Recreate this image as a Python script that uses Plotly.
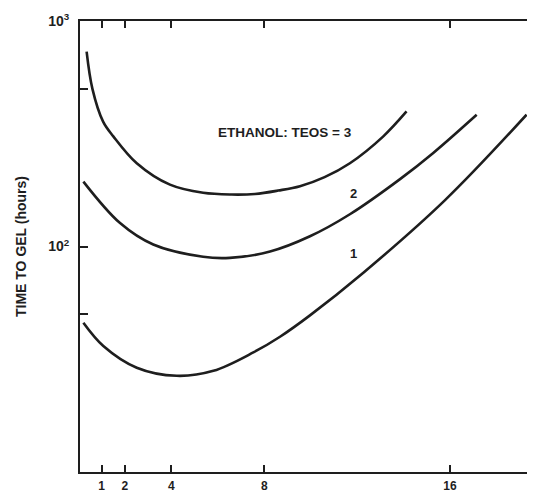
import math
import plotly.graph_objects as go

# ---- data ----
ratio_3_x = [0.35, 0.6, 1.06, 1.5, 2.51, 3.94, 5.37, 6.6, 7.6, 8.6, 9.54, 10.6, 11.69, 13.13, 14.13]
ratio_3_y = [731, 500, 358, 308, 234, 188, 173, 170, 171, 177, 185, 203, 234, 308, 397]

ratio_2_x = [0.21, 1.79, 3.22, 5.37, 6.52, 8.25, 9.97, 11.69, 13.85, 15.28, 17.15]
ratio_2_y = [194, 127, 102, 90, 89, 95, 111, 139, 199, 260, 384]

ratio_1_x = [0.21, 1.07, 2.51, 4.23, 5.81, 7.53, 8.68, 9.97, 12.27, 15.8, 19.30]
ratio_1_y = [45.9, 36.2, 29.0, 26.7, 28.1, 33.9, 39.8, 49.5, 76.5, 161, 384]

x_tickvals = [1, 2, 4, 8, 16]
x_ticktext = ["1", "2", "4", "8", "16"]
y_tickvals = [100, 1000]
y_ticktext = ["10<sup>2</sup>", "10<sup>3</sup>"]
y_minor_vals = [50, 500]

labels = [
    ("ETHANOL: TEOS = 3", 8.89, 319, 13.5),
    ("2", 11.86, 171, 13),
    ("1", 11.86, 93, 13),
]

FONT = "Liberation Sans, Arial, sans-serif"
INK = "#1e1e1e"

fig = go.Figure()
for xs, ys in [(ratio_3_x, ratio_3_y), (ratio_2_x, ratio_2_y), (ratio_1_x, ratio_1_y)]:
    fig.add_trace(go.Scatter(x=xs, y=ys, mode="lines",
                             line=dict(color=INK, width=2.6, shape="spline", smoothing=1.0),
                             showlegend=False, hoverinfo="skip"))

# invisible trace to carry the right-hand tick marks
fig.add_trace(go.Scatter(x=[ratio_1_x[0]], y=[ratio_1_y[0]], yaxis="y2", mode="markers",
                         marker=dict(opacity=0), showlegend=False, hoverinfo="skip"))

for text, xv, yv, sz in labels:
    fig.add_annotation(x=xv, y=math.log10(yv), text=f"<b>{text}</b>", showarrow=False,
                       font=dict(family=FONT, size=sz, color=INK))

x_range = [0.065, 19.62]
y_range = [1.0, 3.0]

# the page body adds an 8px offset, so the figure is sized to fill the rest of the window
fig.update_layout(
    width=527, height=486,
    margin=dict(l=72, r=1, t=13, b=22, autoexpand=False),
    paper_bgcolor="white", plot_bgcolor="white",
    font=dict(family=FONT, color=INK),
    xaxis=dict(range=x_range, showgrid=False, zeroline=False, automargin=False,
               showline=True, linecolor=INK, linewidth=2, mirror="ticks",
               ticks="inside", ticklen=7, tickwidth=2, tickcolor=INK,
               tickvals=x_tickvals, ticktext=[f"<b>{t}</b>" for t in x_ticktext],
               tickfont=dict(family=FONT, size=12, color=INK), ticklabelstandoff=2),
    yaxis=dict(type="log", range=y_range, showgrid=False, zeroline=False, automargin=False,
               showline=True, linecolor=INK, linewidth=2,
               ticks="inside", ticklen=8, tickwidth=2, tickcolor=INK,
               tickvals=y_tickvals, ticktext=[f"<b>{t}</b>" for t in y_ticktext],
               minor=dict(tickvals=y_minor_vals, ticks="inside", ticklen=8,
                          tickwidth=2, tickcolor=INK, showgrid=False),
               tickfont=dict(family=FONT, size=14, color=INK), ticklabelstandoff=6,
               title=dict(text="<b>TIME TO GEL (hours)</b>", standoff=18,
                          font=dict(family=FONT, size=14, color=INK))),
    yaxis2=dict(type="log", range=y_range, overlaying="y", side="right", automargin=False,
                showgrid=False, zeroline=False, showline=False,
                ticks="inside", ticklen=6, tickwidth=2, tickcolor=INK,
                tickvals=[50, 100, 500], showticklabels=False),
)

fig.write_html("out.html")
